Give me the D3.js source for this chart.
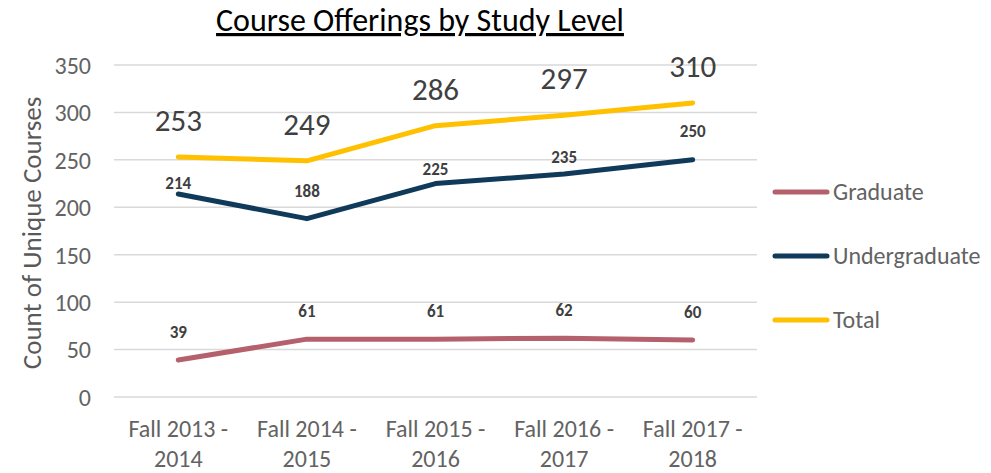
<!DOCTYPE html>
<html>
<head>
<meta charset="utf-8">
<script src="https://cdn.jsdelivr.net/npm/d3@7"></script>
<style>
  html, body { margin: 0; padding: 0; background: #fff; }
  svg { display: block; font-family: Carlito, Lato, "Open Sans", sans-serif; }
</style>
</head>
<body>
<svg id="chart" width="991" height="473"></svg>
<script>
// ---- data ----
const categories = [["Fall 2013 -", "2014"], ["Fall 2014 -", "2015"], ["Fall 2015 -", "2016"], ["Fall 2016 -", "2017"], ["Fall 2017 -", "2018"]];
const graduate = [39, 61, 61, 62, 60];
const undergraduate = [214, 188, 225, 235, 250];
const total = [253, 249, 286, 297, 310];
const yTicks = [0, 50, 100, 150, 200, 250, 300, 350];
const seriesNames = ["Graduate", "Undergraduate", "Total"];

// ---- styling ----
const colors = { Graduate: "#B5606D", Undergraduate: "#0F3A5A", Total: "#FFC000" };
const labelLift = {
  Graduate: [28, 28, 28, 28, 28],
  Undergraduate: [11, 28, 15, 17, 29],
  Total: [37, 37, 37, 37, 37]
};
const labelStyle = {
  Graduate: { size: 17, weight: 700 },
  Undergraduate: { size: 17, weight: 700 },
  Total: { size: 31, weight: 400 }
};

const svg = d3.select("#chart");
const margin = { left: 114, right: 234, top: 65, bottom: 76 };
const W = 991, H = 473;

const x = d3.scaleBand().domain(d3.range(categories.length)).range([margin.left, W - margin.right]).paddingInner(0).paddingOuter(0);
const y = d3.scaleLinear().domain([0, 350]).range([H - margin.bottom, margin.top]);
const cx = i => x(i) + x.bandwidth() / 2;

// gridlines
svg.append("g").selectAll("line").data(yTicks).join("line")
  .attr("x1", margin.left).attr("x2", W - margin.right)
  .attr("y1", d => y(d)).attr("y2", d => y(d))
  .attr("stroke", "#D9D9D9").attr("stroke-width", 1.5);

// y axis labels
const yAxis = d3.axisLeft(y).tickValues(yTicks).tickSize(0).tickPadding(0);
const gy = svg.append("g").attr("transform", `translate(${margin.left - 23},0)`).call(yAxis);
gy.select(".domain").remove();
gy.selectAll("text").attr("font-size", 24).attr("fill", "#636363")
  .attr("font-family", "Carlito, Lato, sans-serif").attr("dy", "0.35em");

// x axis labels
const xAxis = d3.axisBottom(x).tickSize(0).tickFormat(() => "");
const gx = svg.append("g").attr("transform", `translate(0,${H - margin.bottom})`).call(xAxis);
gx.select(".domain").remove();
gx.selectAll(".tick").each(function(d) {
  const t = d3.select(this).append("text")
    .attr("text-anchor", "middle").attr("font-size", 24).attr("fill", "#636363")
    .attr("font-family", "Carlito, Lato, sans-serif");
  t.append("tspan").attr("x", 0).attr("y", 40).text(categories[d][0]);
  t.append("tspan").attr("x", 0).attr("y", 70).text(categories[d][1]);
});

// y axis title
svg.append("text")
  .attr("transform", `translate(41,${(y(0) + y(350)) / 2 + 2}) rotate(-90)`)
  .attr("text-anchor", "middle").attr("font-size", 27).attr("fill", "#595959")
  .text("Count of Unique Courses");

// title
svg.append("text").attr("x", 420).attr("y", 31).attr("text-anchor", "middle")
  .attr("font-size", 32).attr("fill", "#000").attr("text-decoration", "underline")
  .text("Course Offerings by Study Level");

// lines
const seriesData = { Graduate: graduate, Undergraduate: undergraduate, Total: total };
const line = d3.line().x((d, i) => cx(i)).y(d => y(d));
seriesNames.forEach(name => {
  svg.append("path").datum(seriesData[name])
    .attr("d", line).attr("fill", "none").attr("stroke", colors[name])
    .attr("stroke-width", 5).attr("stroke-linecap", "round").attr("stroke-linejoin", "round");
});

// data labels
seriesNames.forEach(name => {
  svg.append("g").selectAll("text").data(seriesData[name]).join("text")
    .attr("x", (d, i) => cx(i))
    .attr("y", (d, i) => y(d) - labelLift[name][i])
    .attr("dy", "0.35em")
    .attr("text-anchor", "middle")
    .attr("font-size", labelStyle[name].size)
    .attr("font-weight", labelStyle[name].weight)
    .attr("fill", "#404040")
    .text(d => d);
});

// legend
const legend = svg.append("g");
seriesNames.forEach((name, i) => {
  const ly = 192 + i * 64;
  legend.append("line").attr("x1", 775).attr("x2", 827).attr("y1", ly).attr("y2", ly)
    .attr("stroke", colors[name]).attr("stroke-width", 5).attr("stroke-linecap", "round");
  legend.append("text").attr("x", 833).attr("y", ly).attr("dy", "0.35em")
    .attr("font-size", 24).attr("fill", "#636363").text(name);
});
</script>
</body>
</html>
